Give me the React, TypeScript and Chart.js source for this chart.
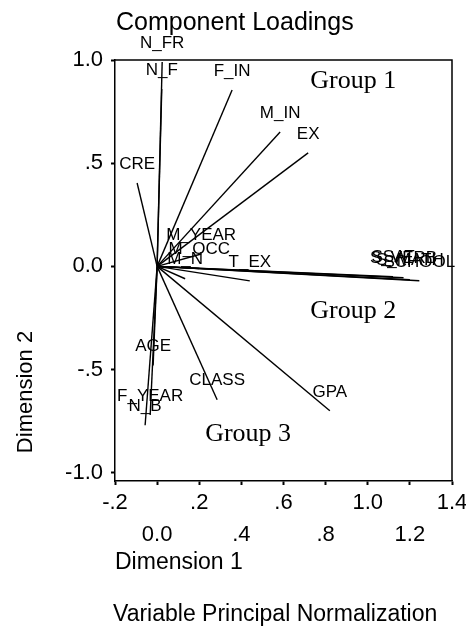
import React, { useEffect, useRef } from 'react';
import { Chart, registerables } from 'chart.js';

Chart.register(...registerables);

// ---- data ----
const variableNames = ['N_FR', 'N_F', 'F_IN', 'M_IN', 'EX', 'CRE', 'M_YEAR', 'M_OCC', 'M_N', 'T_EX', 'SSAT', 'S_VERB', 'S_MATH', 'SCHOOL', 'GPA', 'CLASS', 'AGE', 'F_YEAR', 'N_B'];
const dimension1 = [0.024, 0.022, 0.356, 0.584, 0.717, -0.095, 0.209, 0.2, 0.133, 0.44, 1.12, 1.17, 1.2, 1.245, 0.82, 0.285, -0.019, -0.033, -0.057];
const dimension2 = [0.99, 0.86, 0.855, 0.651, 0.55, 0.404, 0.06, -0.01, -0.06, -0.07, -0.05, -0.055, -0.065, -0.07, -0.7, -0.646, -0.48, -0.72, -0.77];

const groupNames = ['Group 1', 'Group 2', 'Group 3'];
const groupDim1 = [0.727, 0.727, 0.228];
const groupDim2 = [0.864, -0.249, -0.845];

const xTickValues = [-0.2, 0, 0.2, 0.4, 0.6, 0.8, 1.0, 1.2, 1.4];
const xTickLabels = ['-.2', '0.0', '.2', '.4', '.6', '.8', '1.0', '1.2', '1.4'];
const yTickValues = [-1, -0.5, 0, 0.5, 1];
const yTickLabels = ['-1.0', '-.5', '0.0', '.5', '1.0'];

const chartTitle = 'Component Loadings';
const xAxisTitle = 'Dimension 1';
const yAxisTitle = 'Dimension 2';
const footnote = 'Variable Principal Normalization';

const SANS = '"Liberation Sans", Arial, Helvetica, sans-serif';
const SERIF = '"Liberation Serif", "Times New Roman", serif';

const annotatePlugin = {
  id: 'annotate',
  afterDraw(chart: any) {
    const { ctx, chartArea, scales } = chart;
    const xs = scales.x;
    const ys = scales.y;
    ctx.save();
    // frame (top & right)
    ctx.strokeStyle = '#000';
    ctx.lineWidth = 1.5;
    ctx.beginPath();
    ctx.moveTo(chartArea.left, chartArea.top);
    ctx.lineTo(chartArea.right, chartArea.top);
    ctx.lineTo(chartArea.right, chartArea.bottom);
    ctx.stroke();

    // variable labels
    ctx.fillStyle = '#000';
    ctx.font = `17px ${SANS}`;
    ctx.textAlign = 'center';
    ctx.textBaseline = 'middle';
    variableNames.forEach((name, i) => {
      const px = xs.getPixelForValue(dimension1[i]);
      const py = ys.getPixelForValue(dimension2[i]);
      ctx.fillText(name, px, py - 19);
    });

    // group labels
    ctx.font = `26px ${SERIF}`;
    ctx.textAlign = 'left';
    ctx.textBaseline = 'alphabetic';
    groupNames.forEach((name, i) => {
      ctx.fillText(name, xs.getPixelForValue(groupDim1[i]), ys.getPixelForValue(groupDim2[i]));
    });

    // chart title
    ctx.font = `25px ${SANS}`;
    ctx.fillText(chartTitle, 116, 30);

    // footnote
    ctx.font = `23px ${SANS}`;
    ctx.textBaseline = 'middle';
    ctx.fillText(footnote, 113, 615);

    // y axis title
    ctx.translate(26, 392);
    ctx.rotate(-Math.PI / 2);
    ctx.textAlign = 'center';
    ctx.font = `22px ${SANS}`;
    ctx.fillText(yAxisTitle, 0, 0);
    ctx.restore();
  },
};

export default function App() {
  const canvasRef = useRef<HTMLCanvasElement | null>(null);

  useEffect(() => {
    if (!canvasRef.current) return;
    const datasets = variableNames.map((name, i) => ({
      label: name,
      data: [
        { x: 0, y: 0 },
        { x: dimension1[i], y: dimension2[i] },
      ],
      showLine: true,
      borderColor: '#000',
      backgroundColor: '#000',
      borderWidth: 1.4,
      pointRadius: 0,
      pointHoverRadius: 0,
    }));

    const chart = new Chart(canvasRef.current, {
      type: 'scatter',
      data: { datasets },
      plugins: [annotatePlugin],
      options: {
        animation: false,
        responsive: true,
        maintainAspectRatio: false,
        layout: { padding: { top: 60, right: 14, bottom: 0, left: 0 } },
        plugins: {
          legend: { display: false },
          title: { display: false },
          tooltip: { enabled: false },
        },
        scales: {
          x: {
            type: 'linear',
            min: -0.2,
            max: 1.4,
            afterBuildTicks: (s: any) => {
              s.ticks = xTickValues.map((v) => ({ value: v }));
            },
            afterFit: (s: any) => {
              s.height = 151;
              s.paddingLeft = 0;
              s.paddingRight = 0;
            },
            ticks: {
              color: '#000',
              padding: 2,
              maxRotation: 0,
              autoSkip: false,
              font: { family: SANS, size: 22, lineHeight: 1.45 },
              callback: (_v: any, index: number) =>
                index % 2 === 0 ? xTickLabels[index] : ['', xTickLabels[index]],
            },
            grid: { display: true, drawOnChartArea: false, drawTicks: true, tickLength: 4, tickWidth: 2, tickColor: '#000' },
            border: { display: true, color: '#000', width: 1.5 },
            title: {
              display: true,
              text: xAxisTitle,
              align: 'start',
              color: '#000',
              font: { family: SANS, size: 23 },
              padding: { top: 0, bottom: 56 },
            },
          },
          y: {
            type: 'linear',
            min: -1.04,
            max: 1.0,
            afterBuildTicks: (s: any) => {
              s.ticks = yTickValues.map((v) => ({ value: v }));
            },
            afterFit: (s: any) => {
              s.width = 115;
              s.paddingTop = 0;
              s.paddingBottom = 0;
            },
            ticks: {
              color: '#000',
              padding: 8,
              autoSkip: false,
              font: { family: SANS, size: 22 },
              callback: (_v: any, index: number) => yTickLabels[index],
            },
            grid: { display: true, drawOnChartArea: false, drawTicks: true, tickLength: 4, tickWidth: 2, tickColor: '#000' },
            border: { display: true, color: '#000', width: 1.5 },
          },
        },
      },
    });
    return () => chart.destroy();
  }, []);

  return (
    <div style={{ position: 'absolute', left: 0, top: 0, width: 466, height: 632, background: '#fff' }}>
      <canvas ref={canvasRef} />
    </div>
  );
}
